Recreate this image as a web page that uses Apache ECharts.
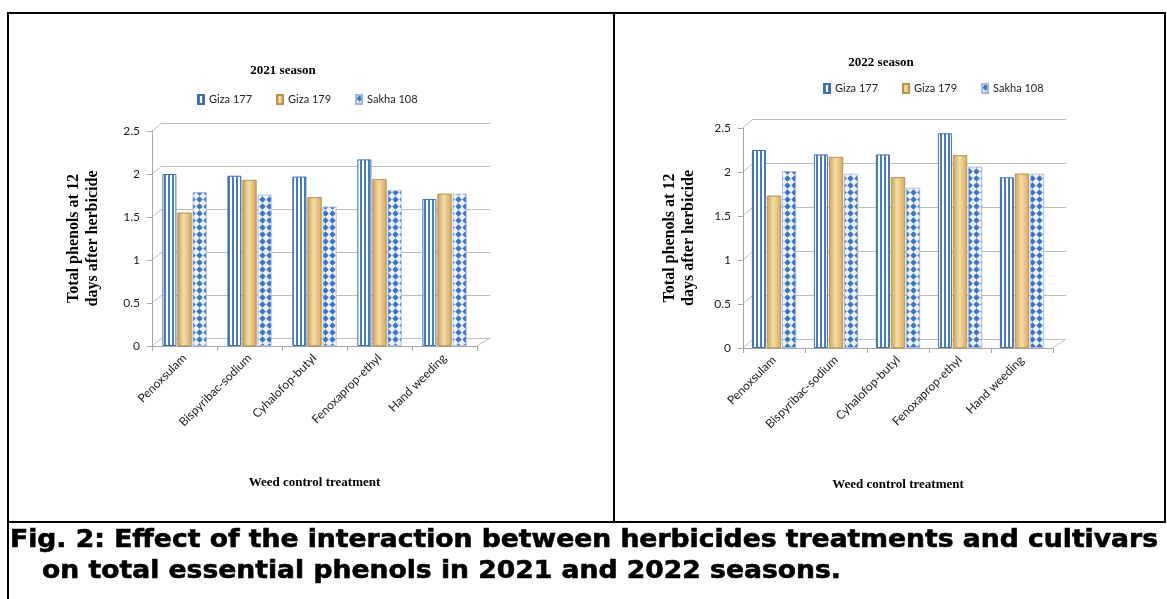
<!DOCTYPE html>
<html><head><meta charset="utf-8">
<script src="https://cdn.jsdelivr.net/npm/echarts@6/dist/echarts.min.js"></script>
<style>html,body{margin:0;padding:0;background:#fff}#c{width:1167px;height:599px}</style>
</head><body><div id="c"></div>
<script>
const categories = ['Penoxsulam','Bispyribac-sodium','Cyhalofop-butyl','Fenoxaprop-ethyl','Hand weeding'];
const seriesNames = ['Giza 177','Giza 179','Sakha 108'];
const giza177_2021 = [2.00,1.98,1.97,2.17,1.71];
const giza179_2021 = [1.55,1.93,1.73,1.94,1.77];
const sakha108_2021 = [1.79,1.76,1.62,1.81,1.77];
const giza177_2022 = [2.25,2.20,2.20,2.44,1.94];
const giza179_2022 = [1.73,2.17,1.94,2.19,1.98];
const sakha108_2022 = [2.01,1.98,1.82,2.06,1.98];
const yTicks = ['0','0.5','1','1.5','2','2.5'];
const titles = ['2021 season','2022 season'];
const yTitle = 'Total phenols at 12\ndays after herbicide';
const xTitle = 'Weed control treatment';
const caption1 = 'Fig. 2: Effect of the interaction between herbicides treatments and cultivars';
const caption2 = 'on total essential phenols in 2021 and 2022 seasons.';

function mkCanvas(w,h,draw){const c=document.createElement('canvas');c.width=w;c.height=h;draw(c.getContext('2d'));return c;}
const stripeCanvas = mkCanvas(4,4,ctx=>{ctx.fillStyle='#ffffff';ctx.fillRect(0,0,4,4);ctx.fillStyle='#4A7EBB';ctx.fillRect(0,0,2,4);});
const diamondCanvas = mkCanvas(7,7,ctx=>{ctx.fillStyle='#EEF3FB';ctx.fillRect(0,0,7,7);ctx.fillStyle='#3D74C6';ctx.beginPath();ctx.moveTo(3.5,0.3);ctx.lineTo(6.7,3.5);ctx.lineTo(3.5,6.7);ctx.lineTo(0.3,3.5);ctx.closePath();ctx.fill();});
const stripeFill = {image: stripeCanvas, repeat: 'repeat'};
const diamondFill = {image: diamondCanvas, repeat: 'repeat'};
const goldFill = {type:'linear',x:0,y:0,x2:1,y2:0,colorStops:[{offset:0,color:'#C9A25C'},{offset:0.45,color:'#F6DDA6'},{offset:1,color:'#D1AA62'}]};

const SANS = 'Lato';
const SERIF = 'Liberation Serif';

// grid boxes: [back, front] per chart
const grids = [
  {left:162, right:677, top:123, bottom:261},
  {left:152, right:690, top:131, bottom:253},
  {left:753, right:101, top:119, bottom:260},
  {left:743, right:114, top:128, bottom:251}
];

function yAxisBack(gi){
  return {gridIndex:gi, type:'value', min:0, max:2.5, interval:0.5,
    axisLabel:{show:false}, axisLine:{show:false}, axisTick:{show:false},
    splitLine:{show:true, lineStyle:{color:'#BDBDBD', width:1}}};
}
function xAxisBack(gi){
  return {gridIndex:gi, type:'category', data:categories, show:false};
}
function yAxisFront(gi, gap){
  return {gridIndex:gi, type:'value', min:0, max:2.5, interval:0.5,
    name:yTitle, nameLocation:'middle', nameGap:gap, nameRotate:90,
    nameTextStyle:{fontFamily:SERIF, fontWeight:'bold', fontSize:16, color:'#000', lineHeight:19},
    axisLabel:{margin:12, fontFamily:SANS, fontSize:12, color:'#222',
      formatter:(v)=>yTicks[Math.round(v/0.5)]},
    axisLine:{show:true, lineStyle:{color:'#A6A6A6'}},
    axisTick:{show:true, length:5, lineStyle:{color:'#A6A6A6'}},
    splitLine:{show:false}};
}
function xAxisFront(gi){
  return {gridIndex:gi, type:'category', data:categories,
    name:xTitle, nameLocation:'middle', nameGap:130,
    nameTextStyle:{fontFamily:SERIF, fontWeight:'bold', fontSize:13, color:'#000'},
    axisLabel:{rotate:45, interval:0, margin:10, fontFamily:SANS, fontSize:12, color:'#222'},
    axisLine:{show:true, lineStyle:{color:'#A6A6A6'}},
    axisTick:{show:true, length:5, interval:0, lineStyle:{color:'#A6A6A6'}}};
}
function bars(gi, data){
  const styles = [
    {color:stripeFill, borderColor:'#3E6FAE', borderWidth:1},
    {color:goldFill, borderColor:'#B8914A', borderWidth:0.6},
    {color:diamondFill, borderColor:'#9DB7DD', borderWidth:0.8}
  ];
  return data.map((d,i)=>({type:'bar', name:seriesNames[i], xAxisIndex:gi, yAxisIndex:gi,
    data:d, barWidth:14, barGap:'8%', itemStyle:styles[i], emphasis:{disabled:true}, animation:false}));
}

const chart = echarts.init(document.getElementById('c'), null, {renderer:'canvas'});

const CAPFONT = 'bold 24px "DejaVu Sans"';
const mctx = document.createElement('canvas').getContext('2d');
mctx.font = CAPFONT;
const w1 = mctx.measureText(caption1).width;
const capScale = 1148 / w1;

const legendCommon = {data:seriesNames, orient:'horizontal', itemWidth:6, itemHeight:9, itemGap:24,
  textStyle:{fontFamily:SANS, fontSize:11, color:'#222'}, selectedMode:false, icon:'rect'};

const frame = [
  {type:'rect', shape:{x:8,y:13,width:1157,height:509}, style:{fill:'none', stroke:'#000', lineWidth:2}, silent:true},
  {type:'line', shape:{x1:614,y1:13,x2:614,y2:522}, style:{stroke:'#000', lineWidth:2}, silent:true},
  {type:'line', shape:{x1:8,y1:522,x2:8,y2:599}, style:{stroke:'#000', lineWidth:2}, silent:true},
  {type:'text', x:10, y:553, scaleX:capScale, style:{text:caption1, font:CAPFONT, fill:'#000', stroke:'#000', lineWidth:0.6, verticalAlign:'bottom'}, silent:true},
  {type:'text', x:42, y:584, scaleX:capScale, style:{text:caption2, font:CAPFONT, fill:'#000', stroke:'#000', lineWidth:0.6, verticalAlign:'bottom'}, silent:true}
];

chart.setOption({
  animation:false,
  backgroundColor:'#fff',
  title:[
    {text:titles[0], left:278, top:59, textAlign:'center', textStyle:{fontFamily:SERIF, fontWeight:'bold', fontSize:13, color:'#000'}},
    {text:titles[1], left:876, top:51, textAlign:'center', textStyle:{fontFamily:SERIF, fontWeight:'bold', fontSize:13, color:'#000'}}
  ],
  legend:[
    Object.assign({left:192, top:89}, legendCommon),
    Object.assign({left:818, top:78}, legendCommon)
  ],
  grid:grids,
  xAxis:[xAxisBack(0), xAxisFront(1), xAxisBack(2), xAxisFront(3)],
  yAxis:[yAxisBack(0), yAxisFront(1,50), yAxisBack(2), yAxisFront(3,45)],
  series:[].concat(
    bars(1,[giza177_2021,giza179_2021,sakha108_2021]),
    bars(3,[giza177_2022,giza179_2022,sakha108_2022])
  ),
  graphic:frame
});

// 3D-look connectors between front axis and back wall, derived from the axes
const extra = [];
[[0,1],[2,3]].forEach(([back,front])=>{
  const tickVals = yTicks.map(Number);
  const gb = chart.getModel().getComponent('grid', back).coordinateSystem.getRect();
  const gf = chart.getModel().getComponent('grid', front).coordinateSystem.getRect();
  tickVals.forEach(v=>{
    const pf = chart.convertToPixel({yAxisIndex:front}, v);
    const pb = chart.convertToPixel({yAxisIndex:back}, v);
    extra.push({type:'line', shape:{x1:gf.x, y1:pf, x2:gb.x, y2:pb}, style:{stroke:'#BDBDBD', lineWidth:1}, silent:true});
  });
  const y0f = chart.convertToPixel({yAxisIndex:front}, 0);
  const y0b = chart.convertToPixel({yAxisIndex:back}, 0);
  extra.push({type:'line', shape:{x1:gf.x+gf.width, y1:y0f, x2:gb.x+gb.width, y2:y0b}, style:{stroke:'#BDBDBD', lineWidth:1}, silent:true});
});
chart.setOption({graphic: frame.concat(extra)});
</script></body></html>
